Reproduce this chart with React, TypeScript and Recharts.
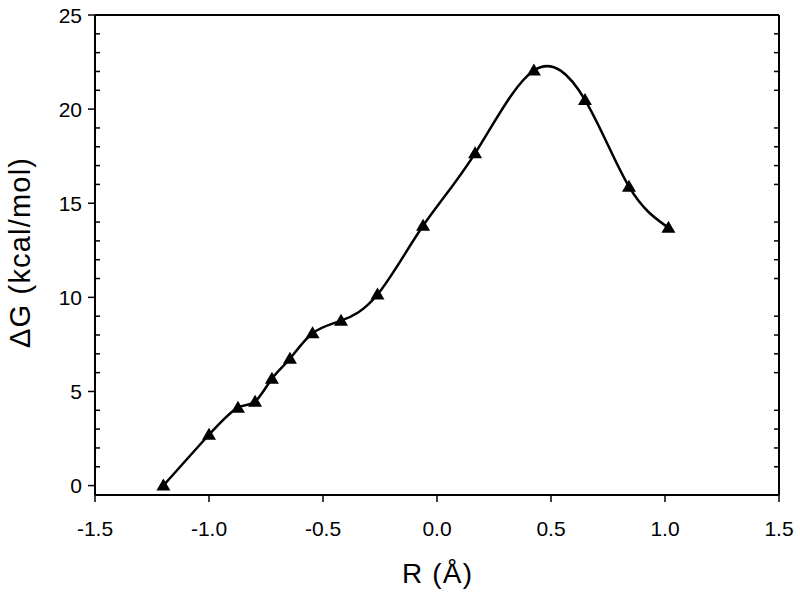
import React from "react";
import { LineChart, Line, XAxis, YAxis, ReferenceLine } from "recharts";

const R_VALUES = [-1.2, -1.0, -0.873, -0.798, -0.724, -0.645, -0.546, -0.421, -0.261, -0.061, 0.167, 0.425, 0.649, 0.842, 1.015];
const DG_VALUES = [0.0, 2.7, 4.14, 4.46, 5.68, 6.74, 8.09, 8.76, 10.15, 13.8, 17.65, 22.05, 20.49, 15.88, 13.7];

const X_TICKS = [-1.5, -1.0, -0.5, 0.0, 0.5, 1.0, 1.5];
const Y_MAJOR_TICKS = [0, 5, 10, 15, 20, 25];
const Y_MINOR_TICKS = [1, 2, 3, 4, 6, 7, 8, 9, 11, 12, 13, 14, 16, 17, 18, 19, 21, 22, 23, 24];

const X_LABEL = "R (Å)";
const Y_LABEL = "ΔG (kcal/mol)";

const data = R_VALUES.map((r, i) => ({ r, dg: DG_VALUES[i] }));

const FONT = "'Liberation Sans', Arial, sans-serif";

const LeftTick = (props: any) => {
  const { x, y, payload } = props;
  const v = payload.value;
  if (Y_MAJOR_TICKS.includes(v)) {
    return (
      <g>
        <line x1={x - 7} x2={x} y1={y} y2={y} stroke="#000" strokeWidth={1.5} />
        <text x={x - 13} y={y} textAnchor="end" dominantBaseline="central" fontSize={21} fontFamily={FONT} fill="#000">
          {v}
        </text>
      </g>
    );
  }
  return <line x1={x} x2={x + 5} y1={y} y2={y} stroke="#000" strokeWidth={1.5} />;
};

const RightTick = (props: any) => {
  const { x, y } = props;
  return <line x1={x - 5} x2={x} y1={y} y2={y} stroke="#000" strokeWidth={1.5} />;
};

const Triangle = (props: any) => {
  const { cx, cy } = props;
  if (cx == null || cy == null) return null;
  return (
    <polygon
      points={`${cx},${cy - 7} ${cx - 7},${cy + 5} ${cx + 7},${cy + 5}`}
      fill="#000"
      stroke="none"
    />
  );
};

export default function App() {
  return (
    <div style={{ position: "absolute", left: 0, top: 0, width: 800, height: 595, background: "#fff" }}>
      <LineChart width={800} height={595} data={data} margin={{ top: 15, right: 0, bottom: 0, left: 0 }}>
        <XAxis
          dataKey="r"
          type="number"
          domain={[-1.5, 1.5]}
          ticks={X_TICKS}
          interval={0}
          tickFormatter={(v: number) => v.toFixed(1)}
          height={100}
          tickSize={7}
          tickMargin={19}
          axisLine={{ stroke: "#000", strokeWidth: 2 }}
          tickLine={{ stroke: "#000", strokeWidth: 1.5 }}
          tick={{ fontSize: 21, fontFamily: FONT, fill: "#000" }}
          allowDataOverflow
          label={{
            content: (p: any) => {
              const vb = p.viewBox;
              return (
                <text
                  x={vb.x + vb.width / 2}
                  y={583}
                  textAnchor="middle"
                  fontSize={28}
                  fontFamily={FONT}
                  fill="#000"
                  textLength={70}
                  lengthAdjust="spacing"
                >
                  {X_LABEL}
                </text>
              );
            },
          }}
        />
        <YAxis
          yAxisId="left"
          type="number"
          domain={[-0.5, 25]}
          ticks={[...Y_MAJOR_TICKS, ...Y_MINOR_TICKS].sort((a, b) => a - b)}
          interval={0}
          width={95}
          tickSize={0}
          tickMargin={0}
          tickLine={false}
          axisLine={{ stroke: "#000", strokeWidth: 2 }}
          tick={<LeftTick />}
          allowDataOverflow
          label={{
            content: () => (
              <text
                x={0}
                y={0}
                transform={`translate(30, 253) rotate(-90)`}
                textAnchor="middle"
                fontSize={29}
                fontFamily={FONT}
                fill="#000"
                textLength={190}
                lengthAdjust="spacing"
              >
                {Y_LABEL}
              </text>
            ),
          }}
        />
        <YAxis
          yAxisId="right"
          orientation="right"
          type="number"
          domain={[-0.5, 25]}
          ticks={Y_MINOR_TICKS}
          interval={0}
          width={21}
          tickSize={0}
          tickMargin={0}
          tickLine={false}
          axisLine={{ stroke: "#000", strokeWidth: 2 }}
          tick={<RightTick />}
          allowDataOverflow
        />
        <ReferenceLine yAxisId="left" y={25} stroke="#000" strokeWidth={2} ifOverflow="visible" />
        <Line
          yAxisId="left"
          dataKey="dg"
          type="natural"
          stroke="#000"
          strokeWidth={2.5}
          dot={<Triangle />}
          activeDot={false}
          isAnimationActive={false}
        />
      </LineChart>
    </div>
  );
}
